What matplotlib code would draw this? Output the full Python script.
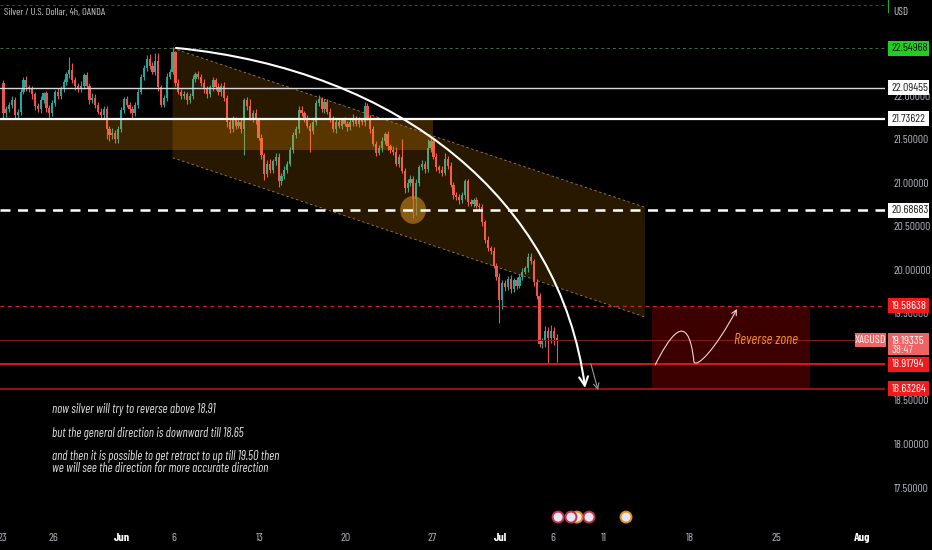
import numpy as np
import matplotlib as mpl
mpl.use('Agg')
import matplotlib.pyplot as plt
import matplotlib.transforms as mtrans
from matplotlib import font_manager
from matplotlib.patches import Rectangle, Polygon, Ellipse, FancyArrowPatch
from matplotlib.path import Path

#--------------------------------------------------------------------------------------------------------
# XAGUSD 4h candles (x = trading day, 0 = Mon Jun 6 2022, 6 bars per day, starting Mon May 23)

first_open = 22.15
closes = [
    21.80,21.85,21.90,21.95,21.78,21.82,22.05,22.18,22.10,22.08,22.02,21.88,21.85,21.95,22.03,21.86,21.80,21.92,22.05,22.00,
    22.08,22.16,22.25,22.30,22.18,22.12,22.08,22.12,22.24,22.12,21.95,21.98,21.90,21.82,21.78,21.85,21.62,21.55,21.58,21.50,
    21.62,21.84,21.96,21.90,21.85,21.80,21.90,22.05,22.22,22.32,22.43,22.35,22.28,22.40,22.10,21.90,21.98,22.22,22.28,22.50,
    22.15,22.05,22.00,22.02,21.95,22.00,22.20,22.25,22.22,22.15,22.08,22.02,22.10,22.18,22.10,22.05,22.12,21.98,21.70,21.62,
    21.72,21.66,21.70,21.62,21.95,21.88,21.75,21.80,21.72,21.52,21.32,21.10,21.22,21.15,21.25,21.30,21.02,21.08,21.15,21.22,
    21.38,21.55,21.62,21.84,21.80,21.74,21.66,21.60,21.70,21.92,21.96,21.85,21.93,21.82,21.74,21.62,21.70,21.66,21.72,21.68,
    21.64,21.70,21.74,21.68,21.72,21.70,21.88,21.75,21.62,21.45,21.35,21.40,21.48,21.56,21.42,21.38,21.36,21.22,21.30,21.14,
    20.94,21.00,21.05,20.82,21.00,21.18,21.22,21.16,21.40,21.48,21.30,21.18,21.15,21.12,21.28,21.20,20.98,20.86,20.84,20.80,
    20.86,21.02,20.78,20.76,20.80,20.74,20.72,20.55,20.35,20.25,20.22,20.05,19.92,19.65,19.85,19.80,19.90,19.78,19.88,19.82,
    19.92,19.98,20.02,20.15,20.10,19.86,19.70,19.15,19.18,19.30,19.22,19.30,19.22,19.19]
# wick lengths in cents above / below the body
upper_wick = [
    3,4,3,5,4,3,3,4,5,3,4,3,4,5,2,3,4,3,2,4,
    3,4,3,15,8,4,3,5,2,4,3,5,4,3,4,3,3,4,5,3,
    3,3,3,4,3,4,3,3,3,4,4,5,4,9,9,3,3,4,3,6,
    2,4,3,4,3,3,4,3,4,3,5,3,3,4,3,5,3,4,3,3,
    5,4,3,4,3,4,8,4,5,3,4,3,4,5,3,4,4,3,5,3,
    3,4,3,4,5,3,4,3,4,3,5,3,4,3,4,3,5,4,3,4,
    3,4,5,3,4,3,5,4,3,4,3,4,5,3,4,3,4,5,3,20,
    3,4,4,3,4,3,4,3,10,5,3,4,3,4,6,3,4,3,4,3,
    4,3,3,4,3,4,3,4,3,4,3,4,3,4,3,4,3,4,3,4,
    3,4,3,5,5,3,4,3,4,6,5,7,5,4]
lower_wick = [
    6,4,3,4,5,3,4,3,4,3,5,4,3,4,3,4,5,3,4,3,
    3,4,3,4,3,5,4,3,4,3,4,3,4,3,5,3,12,7,4,4,
    4,3,4,3,4,5,3,4,3,4,3,4,3,4,4,3,3,4,3,3,
    4,3,4,3,4,3,3,4,3,4,5,4,3,4,3,4,5,4,6,4,
    3,4,3,4,30,4,3,5,4,3,4,7,3,4,3,4,7,4,3,4,
    3,4,3,4,3,4,3,24,4,3,4,3,5,3,4,3,4,3,4,3,
    4,3,4,3,4,3,4,3,4,3,4,3,4,3,4,3,4,3,4,3,
    6,4,3,22,19,4,3,4,3,4,3,4,3,4,3,4,3,4,3,4,
    3,4,5,3,4,3,4,5,4,3,4,3,4,26,10,4,3,4,3,4,
    3,4,3,4,3,4,3,4,5,6,29,6,8,25]

tick_days   = [-10, -7, -3, 0, 5, 10, 15, 19, 22, 25, 30, 35, 40]
tick_labels = ['23', '26', 'Jun', '6', '13', '20', '27', 'Jul', '6', '11', '18', '25', 'Aug']
month_labels = ['Jun', 'Jul', 'Aug']

price_ticks = [17.5, 18.0, 18.5, 19.5, 20.0, 20.5, 21.0, 21.5, 22.0]

# horizontal levels: price, line colour, line style, width, tag colour, tag text colour
levels = [
    (22.54968, '#3f6b52', (0, (3, 3)), 0.7, '#1fd11f', '#101010'),
    (22.09455, '#d8d8d8', '-',         1.0, '#ffffff', '#202020'),
    (21.73622, '#ffffff', '-',         1.6, '#ffffff', '#202020'),
    (20.68683, '#ffffff', (0, (4, 3)), 1.8, '#ffffff', '#202020'),
    (19.58638, '#d42020', (0, (3, 3)), 0.9, '#f21a1a', '#ffffff'),
    (18.91794, '#d81818', '-',         1.4, '#f21a1a', '#ffffff'),
    (18.63264, '#8c1414', '-',         1.5, '#f21a1a', '#ffffff'),
]
top_level = 23.046
last_price = 19.19335
countdown = '38:47'

# drawings (day, price)
zone_days, zone_prices = (-10.3, 15.06), (21.38, 21.73622)
channel_start, channel_end, channel_height = (-0.08, 22.55), (27.38, 20.72), 1.26
circle_center, circle_size = (13.9, 20.69), (1.5, 0.32)
reverse_days, reverse_prices = (27.79, 36.98), (18.63264, 19.58638)
arc_points = [(0.116, 22.552), (13.14, 22.299), (22.44, 20.805), (23.90, 18.644)]
small_arrow = [(24.24, 18.92), (24.65, 18.62)]
squiggle = [(27.97, 18.908), (28.72, 19.195), (29.88, 19.60), (30.23, 18.943),
            (30.41, 18.874), (31.45, 19.080), (32.73, 19.552)]
event_days = [22.33, 23.43, 23.08, 24.13, 26.28]
event_edges = ['#c8324a', '#e0901e', '#c8324a', '#c8324a', '#e0901e']

notes = ["now silver will try to reverse above 18.91",
         "but the general direction is downward till 18.65",
         "and then it is possible to get retract to up till 19.50 then",
         "we will see the direction for more accurate direction"]
notes_px = [410, 434, 456.5, 468.5]

#--------------------------------------------------------------------------------------------------------

names = {f.name for f in font_manager.fontManager.ttflist}
def pick(*cands):
    for n in cands:
        if n in names: return n
    return 'DejaVu Sans'
narrow = pick('Barlow Condensed', 'Archivo Narrow', 'Liberation Sans Narrow', 'Roboto')

BG = '#000000'
UP, DOWN = '#26a69a', '#ef5350'
W, H = 932, 550
AX_W, AX_H = 885, 525

fig = plt.figure(figsize=(W/100, H/100), dpi=100, facecolor=BG)
ax = fig.add_axes([0, (H-AX_H)/H, AX_W/W, AX_H/H], facecolor=BG)
ax.set_xlim(-10.116, 41.337)
ax.set_ylim(17.069, 23.103)
for s in ax.spines.values(): s.set_visible(False)
ppu = AX_H/(23.103 - 17.069)  # pixels per price unit

# candles
c = np.array(closes)
o = np.concatenate([[first_open], c[:-1]])
hi = np.maximum(o, c) + np.array(upper_wick)/100
lo = np.minimum(o, c) - np.array(lower_wick)/100
xs = -10 + (np.arange(len(c)) + 0.5)/6
cols = np.where(c >= o, UP, DOWN)
ax.vlines(xs, lo, hi, colors=cols, linewidth=0.8, zorder=2)
ax.bar(xs, np.maximum(np.abs(c - o), 0.012), bottom=np.minimum(o, c), width=0.125,
       color=cols, linewidth=0, zorder=2)

# zones (drawn over the candles, as the drawings are)
ax.add_patch(Rectangle((zone_days[0], zone_prices[0]), zone_days[1]-zone_days[0], zone_prices[1]-zone_prices[0],
                       facecolor='#ff9800', alpha=0.23, linewidth=0, zorder=3))
(d0, p0), (d1, p1) = channel_start, channel_end
ax.add_patch(Polygon([(d0, p0), (d1, p1), (d1, p1-channel_height), (d0, p0-channel_height)],
                     closed=True, facecolor='#ff9800', alpha=0.16, linewidth=0, zorder=3))
for off in (0, channel_height):
    ax.plot([d0, d1], [p0-off, p1-off], color='#9c8060', lw=0.6, ls=(0, (3, 3)), zorder=3)
ax.add_patch(Ellipse(circle_center, *circle_size, facecolor='#c08020', alpha=0.65, linewidth=0, zorder=4))
ax.add_patch(Rectangle((reverse_days[0], reverse_prices[0]), reverse_days[1]-reverse_days[0],
                       reverse_prices[1]-reverse_prices[0], facecolor='#ff0000', alpha=0.24, linewidth=0, zorder=1))

# levels
ax.axhline(top_level, color='#2f5a40', lw=0.7, ls=(0, (3, 3)), zorder=2)
ax.axhline(last_price, color='#7a1c1c', lw=0.8, zorder=2)
for y, lc, ls, lw, fc, tc in levels:
    ax.axhline(y, color=lc, lw=lw, ls=ls, zorder=5)

# drawings
arc = Path(arc_points, [Path.MOVETO, Path.CURVE4, Path.CURVE4, Path.CURVE4])
ax.add_patch(FancyArrowPatch(path=arc, arrowstyle='->', mutation_scale=16, color='#ffffff',
                             lw=1.5, shrinkA=0, shrinkB=0, zorder=6))
ax.add_patch(FancyArrowPatch(small_arrow[0], small_arrow[1], arrowstyle='->', mutation_scale=10,
                             color='#9a9a9a', lw=0.8, shrinkA=0, shrinkB=0, zorder=6))
sq = Path(squiggle, [Path.MOVETO] + [Path.CURVE4]*6)
ax.add_patch(FancyArrowPatch(path=sq, arrowstyle='->', mutation_scale=9, color='#f0d4d4',
                             lw=0.8, shrinkA=0, shrinkB=0, zorder=6))
ax.text(32.56, 19.19, 'Reverse zone', color='#f0902a', fontsize=10.5, style='italic',
        family=narrow, ha='left', va='center', zorder=7)

ax.scatter(event_days, [17.16]*len(event_days), s=62, facecolor='#e4e8f4', edgecolor=event_edges,
           linewidth=1.4, zorder=6, clip_on=False)

# text notes
for t, py in zip(notes, notes_px):
    ax.text(52/AX_W, 1 - py/AX_H, t, transform=ax.transAxes, color='#e2e2e2', fontsize=9.0,
            style='italic', family=narrow, ha='left', va='center')

ax.text(4/AX_W, 1 - 12/AX_H, 'Silver / U.S. Dollar, 4h, OANDA', transform=ax.transAxes,
        color='#c8c8c8', fontsize=7.4, family=narrow, ha='left', va='center')
fig.text(893/W, 1 - 12/H, 'USD', color='#c8c8c8', fontsize=8, family=narrow, ha='left', va='center')
fig.add_artist(plt.Line2D([888/W, 888/W], [1, 1 - 12/H], color='#1fb01f', lw=0.8))

# axes
ax.set_xticks(tick_days, tick_labels)
ax.yaxis.tick_right()
ax.set_yticks(price_ticks, [f'{v:.5f}' for v in price_ticks])
ax.tick_params(axis='x', length=0, pad=5.5, labelsize=8.6, labelcolor='#b2b5be')
ax.tick_params(axis='y', length=0, pad=6.3, labelsize=8.3, labelcolor='#b2b5be')
for lab in ax.get_xticklabels() + ax.get_yticklabels():
    lab.set_fontfamily(narrow)
for lab in ax.get_xticklabels():
    if lab.get_text() in month_labels:
        lab.set_color('#ffffff'); lab.set_fontweight('bold')

# price tags on the scale, boxes in pixels
blend = mtrans.blended_transform_factory(ax.transAxes, ax.transData)
def tag_box(x0_px, x1_px, top, bottom, fc):
    ax.add_patch(Rectangle((x0_px/AX_W, bottom), (x1_px-x0_px)/AX_W, top-bottom, transform=blend,
                           facecolor=fc, edgecolor='none', clip_on=False, zorder=9))
def tag_text(x_px, y, text, tc, ha='left', size=8.6):
    ax.text(x_px/AX_W, y, text, transform=blend, ha=ha, va='center', fontsize=size, color=tc,
            family=narrow, clip_on=False, zorder=10)

half = 7.5/ppu
for y, lc, ls, lw, fc, tc in levels:
    tag_box(888, 929, y+half, y-half, fc)
    tag_text(892, y, f'{y:.5f}', tc)
tag_box(888, 929, last_price+7/ppu, last_price-15/ppu, '#ee6464')
tag_text(892, last_price-0.5/ppu, f'{last_price:.5f}', '#ffffff')
tag_text(892, last_price-9.5/ppu, countdown, '#ffe0e0')
tag_box(855, 886, last_price+7/ppu, last_price-7/ppu, '#ee6464')
tag_text(870.5, last_price, 'XAGUSD', '#ffffff', ha='center')

plt.savefig('out.png', dpi=100, facecolor=BG)
